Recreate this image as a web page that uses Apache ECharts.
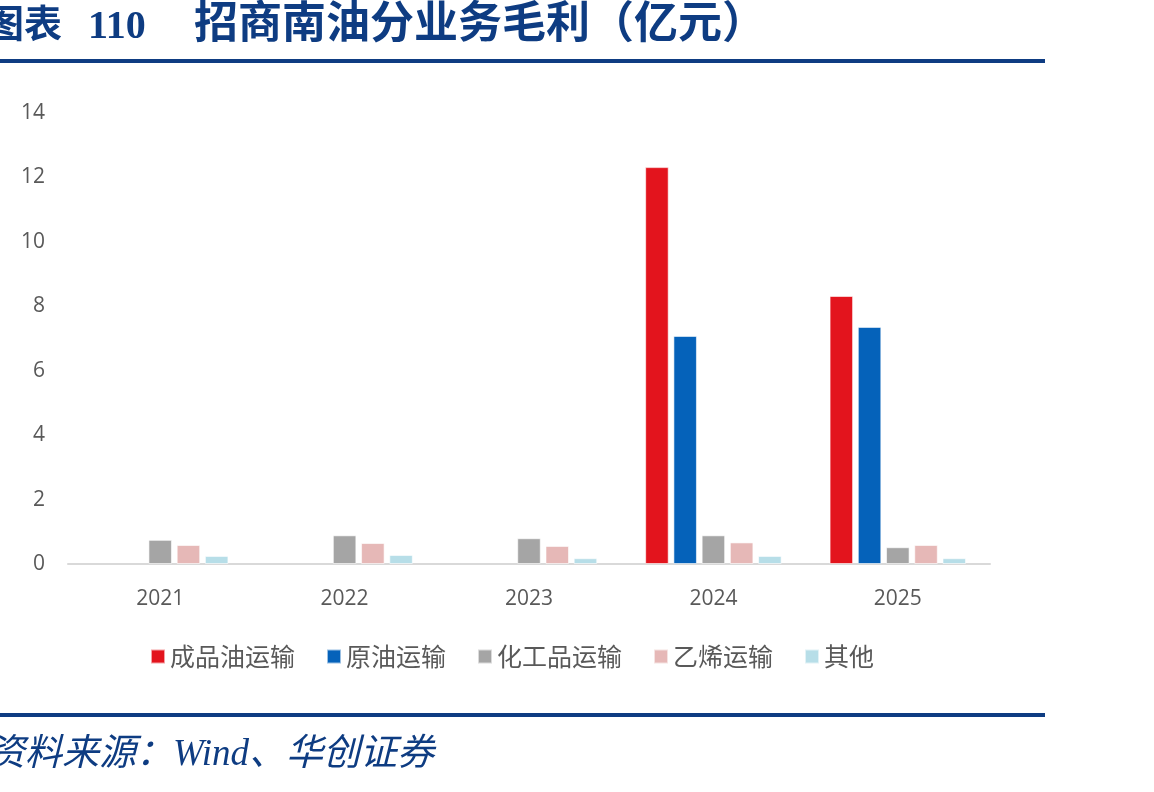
<!DOCTYPE html>
<html>
<head>
<meta charset="utf-8">
<script src="https://cdn.jsdelivr.net/npm/echarts@6/dist/echarts.min.js"></script>
<style>
  html, body { margin: 0; padding: 0; background: #fff; }
  #main { width: 1154px; height: 792px; }
</style>
</head>
<body>
<div id="main"></div>
<script>
var years = ['2021', '2022', '2023', '2024', '2025']
var seriesNames = ['成品油运输', '原油运输', '化工品运输', '乙烯运输', '其他']
var productOil = [null, null, null, 12.32, 8.32]
var crudeOil = [null, null, null, 7.08, 7.36]
var chemical = [0.75, 0.89, 0.80, 0.89, 0.52]
var ethylene = [0.59, 0.65, 0.56, 0.67, 0.59]
var others = [0.25, 0.28, 0.18, 0.25, 0.18]
var colors = ['#E3141D', '#0562BA', '#A5A5A5', '#E6B8B7', '#B7DEE8']

var myChart = echarts.init(document.getElementById('main'))

function bar(name, data, color) {
    return {
        name: name,
        type: 'bar',
        data: data,
        barGap: '20%',
        barCategoryGap: '26%',
        itemStyle: {
            color: color,
            borderColor: 'rgba(255,255,255,0.6)',
            borderWidth: 1
        }
    }
}

var titleFont = 'Liberation Serif, Noto Sans CJK SC'

myChart.setOption({
    animation: false,
    color: colors,
    grid: { left: 68, right: 164, top: 113, bottom: 228 },
    legend: {
        left: 145,
        top: 639,
        itemWidth: 14,
        itemHeight: 14,
        itemGap: 31,
        icon: 'rect',
        textStyle: { fontSize: 25, color: '#595959', fontFamily: 'Noto Sans CJK SC' },
        data: seriesNames
    },
    xAxis: {
        type: 'category',
        data: years,
        axisTick: { show: false },
        axisLine: { lineStyle: { color: '#D9D9D9', width: 2 } },
        axisLabel: { color: '#595959', fontSize: 21, margin: 25, fontFamily: 'Open Sans' }
    },
    yAxis: {
        type: 'value',
        min: 0,
        max: 14,
        interval: 2,
        splitLine: { show: false },
        axisLine: { show: false },
        axisTick: { show: false },
        axisLabel: { color: '#595959', fontSize: 21, margin: 23, fontFamily: 'Open Sans' }
    },
    graphic: [
        {
            type: 'text', left: -14, top: 8,
            style: { text: '图表', fontSize: 38, fontWeight: 'bold', fill: '#0E3C82', fontFamily: titleFont }
        },
        {
            type: 'text', left: 88, top: 8,
            style: { text: '110', fontSize: 40, fontWeight: 'bold', fill: '#0E3C82', fontFamily: titleFont }
        },
        {
            type: 'text', left: 194, top: 5,
            style: { text: '招商南油分业务毛利（亿元）', fontSize: 44, fontWeight: 'bold', fill: '#0E3C82', fontFamily: titleFont }
        },
        { type: 'rect', shape: { x: 0, y: 59, width: 1045, height: 4 }, style: { fill: '#0E3C82' } },
        { type: 'rect', shape: { x: 0, y: 713, width: 1045, height: 4 }, style: { fill: '#0E3C82' } },
        {
            type: 'text', left: -12, top: 737,
            style: {
                text: '资料来源：Wind、华创证券',
                fontSize: 37, fontStyle: 'italic', fill: '#0E3C82',
                fontFamily: titleFont
            }
        }
    ],
    series: [
        bar(seriesNames[0], productOil, colors[0]),
        bar(seriesNames[1], crudeOil, colors[1]),
        bar(seriesNames[2], chemical, colors[2]),
        bar(seriesNames[3], ethylene, colors[3]),
        bar(seriesNames[4], others, colors[4])
    ]
})
</script>
</body>
</html>
